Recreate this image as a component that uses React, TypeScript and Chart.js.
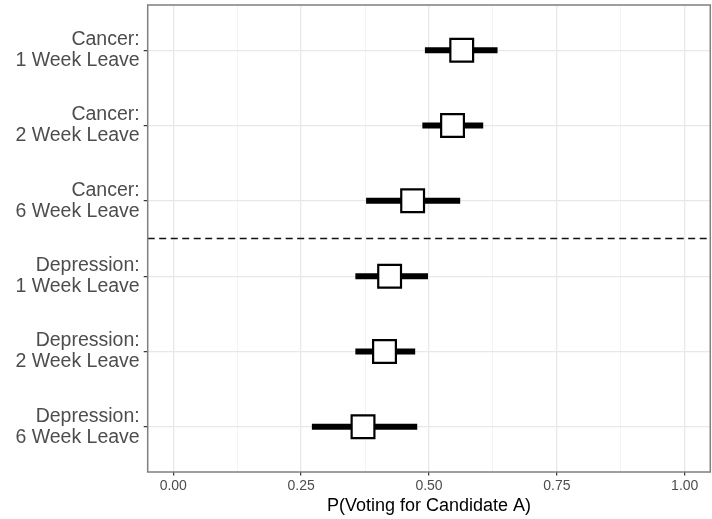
import React, { useEffect, useRef } from 'react';
import { Chart, registerables } from 'chart.js';

Chart.register(...registerables);

// ---- data ----
const categories: string[][] = [
  ['Cancer:', '1 Week Leave'],
  ['Cancer:', '2 Week Leave'],
  ['Cancer:', '6 Week Leave'],
  ['Depression:', '1 Week Leave'],
  ['Depression:', '2 Week Leave'],
  ['Depression:', '6 Week Leave'],
];
const estimates = [0.564, 0.546, 0.468, 0.423, 0.413, 0.371];
const lower = [0.492, 0.487, 0.377, 0.356, 0.356, 0.271];
const upper = [0.634, 0.606, 0.561, 0.498, 0.473, 0.477];
const xTicks = [0, 0.125, 0.25, 0.375, 0.5, 0.625, 0.75, 0.875, 1];
const xMin = -0.05;
const xMax = 1.05;
const yMin = 0.4;
const yMax = 6.6;
const dividerY = 3.5;
const xTitle = 'P(Voting for Candidate A)';

const FONT = '"Liberation Sans", Arial, Helvetica, sans-serif';

const isMajor = (v: number) => Math.abs(v * 4 - Math.round(v * 4)) < 1e-9;

const panelBorder = {
  id: 'panelBorder',
  afterDraw(chart: any) {
    const { ctx, chartArea: a } = chart;
    ctx.save();
    ctx.strokeStyle = '#7f7f7f';
    ctx.lineWidth = 1.5;
    ctx.strokeRect(a.left, a.top, a.right - a.left, a.bottom - a.top);
    ctx.restore();
  },
};

const zeroPad = (scale: any) => {
  scale.paddingTop = 0;
  scale.paddingBottom = 0;
  scale.paddingLeft = 0;
  scale.paddingRight = 0;
};

export default function App() {
  const ref = useRef<HTMLCanvasElement | null>(null);

  useEffect(() => {
    document.body.style.margin = '0';
    if (!ref.current) return;

    const points = estimates.map((v, i) => ({ x: v, y: i + 1 }));
    const ranges = lower.map((lo, i) => ({
      type: 'line' as const,
      data: [
        { x: lo, y: i + 1 },
        { x: upper[i], y: i + 1 },
      ],
      showLine: true,
      borderColor: '#000000',
      borderWidth: 6,
      borderCapStyle: 'butt' as const,
      pointRadius: 0,
      pointHoverRadius: 0,
    }));

    const chart = new Chart(ref.current, {
      type: 'scatter',
      data: {
        datasets: [
          {
            data: points,
            pointStyle: 'rect',
            pointRadius: 16.1,
            pointHoverRadius: 16.1,
            pointBackgroundColor: '#ffffff',
            pointBorderColor: '#000000',
            pointBorderWidth: 2.2,
            pointHoverBorderWidth: 2.2,
          } as any,
          ...ranges,
          {
            type: 'line',
            data: [
              { x: xMin, y: dividerY },
              { x: xMax, y: dividerY },
            ],
            showLine: true,
            borderColor: '#111111',
            borderWidth: 1.3,
            borderDash: [7, 4.5],
            pointRadius: 0,
            pointHoverRadius: 0,
          } as any,
        ],
      },
      options: {
        animation: false,
        responsive: false,
        maintainAspectRatio: false,
        events: [],
        layout: { autoPadding: false, padding: { top: 5, right: 1.7, left: 0, bottom: 0 } },
        plugins: {
          legend: { display: false },
          tooltip: { enabled: false },
        },
        scales: {
          x: {
            type: 'linear',
            min: xMin,
            max: xMax,
            afterBuildTicks: (scale: any) => {
              scale.ticks = xTicks.map((v) => ({ value: v }));
            },
            afterFit: (scale: any) => {
              scale.height = 47;
              zeroPad(scale);
            },
            border: { display: false },
            grid: {
              color: (c: any) => (c.tick && isMajor(c.tick.value) ? '#e8e8e8' : '#f0f0f0'),
              lineWidth: (c: any) => (c.tick && isMajor(c.tick.value) ? 1.3 : 0.8),
              tickLength: 3.5,
              tickColor: (c: any) => (c.tick && isMajor(c.tick.value) ? '#333333' : 'rgba(0,0,0,0)'),
              tickWidth: 1.2,
            },
            ticks: {
              autoSkip: false,
              maxRotation: 0,
              minRotation: 0,
              padding: 2.1,
              color: '#4d4d4d',
              font: { family: FONT, size: 14 },
              callback: (v: any) => (isMajor(Number(v)) ? Number(v).toFixed(2) : ''),
            },
            title: {
              display: true,
              text: xTitle,
              color: '#000000',
              font: { family: FONT, size: 18 },
              padding: { top: 0, bottom: 2.2 },
            },
          },
          y: {
            type: 'linear',
            min: yMin,
            max: yMax,
            reverse: true,
            afterBuildTicks: (scale: any) => {
              scale.ticks = categories.map((_, i) => ({ value: i + 1 }));
            },
            afterFit: (scale: any) => {
              scale.width = 147.7;
              zeroPad(scale);
            },
            border: { display: false },
            grid: {
              color: '#e8e8e8',
              lineWidth: 1.3,
              tickLength: 4,
              tickColor: '#333333',
              tickWidth: 1.2,
            },
            ticks: {
              autoSkip: false,
              padding: 4,
              color: '#4d4d4d',
              font: { family: FONT, size: 19.5, lineHeight: 1.08 },
              callback: (v: any) => categories[Math.round(Number(v)) - 1] || '',
            },
          },
        },
      },
      plugins: [panelBorder],
    } as any);

    return () => chart.destroy();
  }, []);

  return (
    <div style={{ width: 712, height: 519, position: 'relative' }}>
      <canvas ref={ref} width={712} height={519} style={{ display: 'block' }} />
    </div>
  );
}
